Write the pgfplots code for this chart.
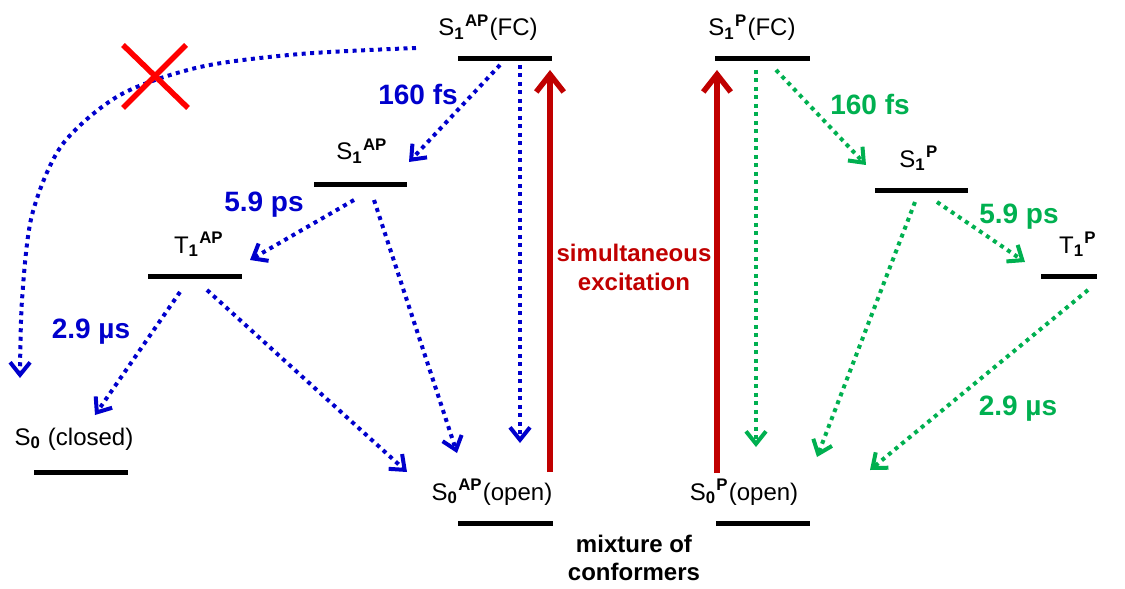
\documentclass[border=0pt]{standalone}
\usepackage{pgfplots}
\pgfplotsset{compat=1.18}
\usepackage{fontspec}
\setmainfont{Liberation Sans}
\usetikzlibrary{arrows.meta}

\definecolor{apblue}{RGB}{0,0,204}
\definecolor{pgreen}{RGB}{0,176,80}
\definecolor{excred}{RGB}{192,0,0}
\definecolor{crossred}{RGB}{255,0,0}

\newcommand{\lab}{\fontsize{9.6}{11}\selectfont}
\newcommand{\tlab}{\fontsize{11.2}{13}\selectfont\bfseries}
\newcommand{\st}[2]{\textsubscript{\textbf{#1}}\textsuperscript{\textbf{#2}}}

\tikzset{
  level/.style={black, line width=2pt},
  decay/.style={line width=1.6pt, dash pattern=on 1.6pt off 1.8pt,
    -{Straight Barb[length=5pt,width=8pt]}},
  pump/.style={excred, line width=2.2pt, -{Straight Barb[length=7pt,width=11pt]}},
}

\begin{document}
\begin{tikzpicture}
\begin{axis}[
  scale only axis, width=450pt, height=234pt,
  xmin=0, xmax=1125, ymin=0, ymax=585, y dir=reverse,
  hide axis, clip=false, no markers,
]
% invisible frame so the picture spans the whole diagram area
\addplot[draw=none, forget plot] coordinates {(0,0) (1125,585)};

% energy levels
\addplot[level] coordinates {(458,59) (552,59)};   % S1AP(FC)
\addplot[level] coordinates {(314,184) (407,184)}; % S1AP
\addplot[level] coordinates {(148,276) (242,276)}; % T1AP
\addplot[level] coordinates {(34,472) (128,472)};  % S0 closed
\addplot[level] coordinates {(458,523) (553,523)}; % S0AP open
\addplot[level] coordinates {(715,59) (810,59)};   % S1P(FC)
\addplot[level] coordinates {(875,190) (968,190)}; % S1P
\addplot[level] coordinates {(1041,276) (1097,276)}; % T1P
\addplot[level] coordinates {(716,523) (810,523)}; % S0P open

% excitation
\addplot[pump] coordinates {(550,472) (550,70)};
\addplot[pump] coordinates {(717,473) (717,70)};

% AP conformer relaxation
\addplot[decay, apblue] coordinates {(500,65) (409,162)};
\addplot[decay, apblue] coordinates {(520,65) (520,443)};
\addplot[decay, apblue] coordinates {(354,200) (250,260)};
\addplot[decay, apblue] coordinates {(374,200) (457,453)};
\addplot[decay, apblue] coordinates {(180,292) (95,415)};
\addplot[decay, apblue] coordinates {(207,290) (407,472)};
\addplot[decay, apblue, smooth] coordinates {
  (416,48) (300,54) (200,67) (120,95) (62,145) (32,215) (22,300) (20,378)};

% blocked channel
\addplot[crossred, line width=2.2pt] coordinates {(123,45) (188,108)};
\addplot[crossred, line width=2.2pt] coordinates {(186,45) (123,108)};

% P conformer relaxation
\addplot[decay, pgreen] coordinates {(756,70) (756,447)};
\addplot[decay, pgreen] coordinates {(776,70) (866,165)};
\addplot[decay, pgreen] coordinates {(937,202) (1025,262)};
\addplot[decay, pgreen] coordinates {(915,202) (817,457)};
\addplot[decay, pgreen] coordinates {(1088,290) (870,470)};

% state labels
\node[anchor=base, font=\lab] at (axis cs:488,36) {S\st{1}{AP}(FC)};
\node[anchor=base, font=\lab] at (axis cs:362,160) {S\st{1}{AP}};
\node[anchor=base, font=\lab] at (axis cs:199,253) {T\st{1}{AP}};
\node[anchor=base, font=\lab] at (axis cs:74,445) {S\textsubscript{\textbf{0}} (closed)};
\node[anchor=base, font=\lab] at (axis cs:492,500) {S\st{0}{AP}(open)};
\node[anchor=base, font=\lab] at (axis cs:752,36) {S\st{1}{P}(FC)};
\node[anchor=base, font=\lab] at (axis cs:919,167) {S\st{1}{P}};
\node[anchor=base, font=\lab] at (axis cs:1078,253) {T\st{1}{P}};
\node[anchor=base, font=\lab] at (axis cs:744,500) {S\st{0}{P}(open)};

% time constants
\node[anchor=base, font=\tlab, apblue] at (axis cs:418,105) {160 fs};
\node[anchor=base, font=\tlab, apblue] at (axis cs:264,211) {5.9 ps};
\node[anchor=base, font=\tlab, apblue] at (axis cs:91,338) {2.9 µs};
\node[anchor=base, font=\tlab, pgreen] at (axis cs:870,115) {160 fs};
\node[anchor=base, font=\tlab, pgreen] at (axis cs:1019,223) {5.9 ps};
\node[anchor=base, font=\tlab, pgreen] at (axis cs:1018,415) {2.9 µs};

% annotations
\node[anchor=base, font=\lab\bfseries, excred] at (axis cs:634,261) {simultaneous};
\node[anchor=base, font=\lab\bfseries, excred] at (axis cs:634,290) {excitation};
\node[anchor=base, font=\lab\bfseries] at (axis cs:634,552) {mixture of};
\node[anchor=base, font=\lab\bfseries] at (axis cs:634,580) {conformers};
\end{axis}
\end{tikzpicture}
\end{document}
